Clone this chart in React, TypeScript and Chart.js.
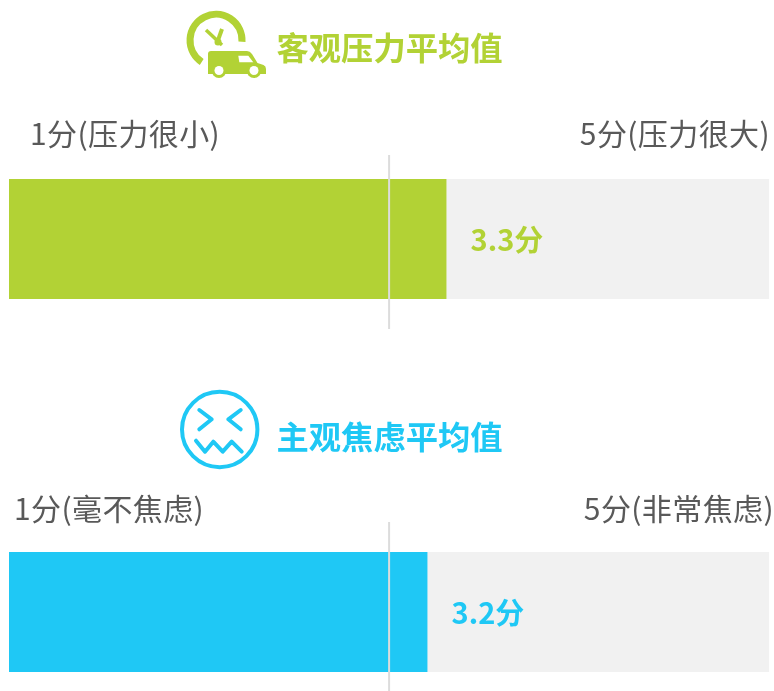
import React, { useEffect, useRef } from "react";
import { Chart, registerables } from "chart.js";

Chart.register(...registerables);

const scaleMin = 1;
const scaleMax = 5;
const midValue = 3;
const titles = ["客观压力平均值", "主观焦虑平均值"];
const lowLabels = ["1分(压力很小)", "1分(毫不焦虑)"];
const highLabels = ["5分(压力很大)", "5分(非常焦虑)"];
const values = [3.3, 3.2];
const valueLabels = ["3.3分", "3.2分"];
const colors = ["#b2d235", "#1fc8f5"];
const trackColor = "#f1f1f1";
const textColor = "#595959";
const lineColor = "#dcdcdc";
const FONT = '"Noto Sans CJK SC", "Noto Sans", sans-serif';

type PanelLayout = {
  top: number; height: number; padTop: number; padBottom: number;
  titleY: number; labelY: number; lowX: number; highX: number;
  lineTop: number; lineBottom: number;
};
const layouts: PanelLayout[] = [
  { top: 0, height: 340, padTop: 179, padBottom: 41, titleY: 48, labelY: 134, lowX: 30, highX: 770, lineTop: 155, lineBottom: 329 },
  { top: 345, height: 346, padTop: 207, padBottom: 19, titleY: 92, labelY: 164, lowX: 14, highX: 774, lineTop: 177, lineBottom: 346 },
];

function Panel({ index }: { index: number }) {
  const ref = useRef<HTMLCanvasElement>(null);
  const l = layouts[index];
  useEffect(() => {
    const textPlugin = {
      id: "panelText",
      afterDatasetsDraw(chart: any) {
        const { ctx, scales } = chart;
        const x = scales.x;
        const midX = x.getPixelForValue(midValue);
        ctx.save();
        ctx.fillStyle = lineColor;
        ctx.fillRect(midX - 1, l.lineTop, 2, l.lineBottom - l.lineTop);
        ctx.textBaseline = "middle";
        ctx.fillStyle = colors[index];
        ctx.font = `bold 32.3px ${FONT}`;
        ctx.textAlign = "left";
        ctx.fillText(titles[index], 276.5, l.titleY);
        ctx.fillStyle = textColor;
        ctx.font = `30px ${FONT}`;
        ctx.letterSpacing = "0.4px";
        ctx.fillText(lowLabels[index], l.lowX, l.labelY);
        ctx.textAlign = "right";
        ctx.fillText(highLabels[index], l.highX, l.labelY);
        ctx.letterSpacing = "0px";
        ctx.textAlign = "left";
        ctx.fillStyle = colors[index];
        ctx.font = `bold 29px ${FONT}`;
        const meta = chart.getDatasetMeta(0).data[0];
        ctx.fillText(valueLabels[index], x.getPixelForValue(values[index]) + 24.5, meta.y + 1);
        ctx.restore();
      },
    };
    const chart = new Chart(ref.current!, {
      type: "bar",
      data: {
        labels: [titles[index]],
        datasets: [
          { data: [values[index]], backgroundColor: colors[index], barPercentage: 1, categoryPercentage: 1 },
          { data: [scaleMax], backgroundColor: trackColor, barPercentage: 1, categoryPercentage: 1 },
        ],
      },
      options: {
        indexAxis: "y",
        animation: false,
        responsive: false,
        layout: { padding: { left: 9, right: 4.8, top: l.padTop, bottom: l.padBottom } },
        plugins: { legend: { display: false }, tooltip: { enabled: false }, title: { display: false } },
        scales: {
          x: { min: scaleMin, max: scaleMax, display: false },
          y: { stacked: true, display: false },
        },
      },
      plugins: [textPlugin],
    } as any);
    return () => chart.destroy();
  }, []);
  return (
    <canvas
      ref={ref}
      width={774}
      height={l.height}
      style={{ position: "absolute", left: 0, top: l.top, width: 774, height: l.height }}
    />
  );
}

function Icons() {
  const green = colors[0];
  const blue = colors[1];
  return (
    <svg width={774} height={691} style={{ position: "absolute", left: 0, top: 0, pointerEvents: "none" }}>
      <path d="M 201.7 62 A 26 26 0 1 1 242 41.7" fill="none" stroke={green} strokeWidth={7} />
      <path d="M 206 30 L 222 45" fill="none" stroke={green} strokeWidth={3.5} />
      <path d="M 222 29 L 217 43" fill="none" stroke={green} strokeWidth={4} />
      <circle cx={218} cy={42} r={3.5} fill={green} />
      <path d="M 211 51 L 247 51 Q 250 51 252 54 L 257.5 63 L 263.5 65 Q 266 66 266 69 L 266 74 L 208 74 L 208 54 Q 208 51 211 51 Z" fill={green} />
      <path d="M 238.3 55.7 L 248.3 55.7 L 253.3 62.3 L 239.3 62.3 Z" fill="#ffffff" />
      <circle cx={219} cy={70.5} r={7.5} fill={green} />
      <circle cx={219} cy={70.5} r={4.5} fill="#ffffff" />
      <circle cx={254} cy={70.5} r={7.5} fill={green} />
      <circle cx={254} cy={70.5} r={4.5} fill="#ffffff" />
      <circle cx={219.7} cy={429.5} r={37.7} fill="none" stroke={blue} strokeWidth={4} />
      <g fill="none" stroke={blue} strokeWidth={4} strokeLinecap="round" strokeLinejoin="round">
        <path d="M 199.3 410 L 211.7 419.3 L 199.3 429.3" />
        <path d="M 240.7 410 L 228.3 419.3 L 240.7 429.3" />
        <path d="M 196 440.7 L 205 451.7 L 213.3 441.7 L 222.7 451.7 L 231.7 441.7 L 241.7 451.7" />
      </g>
    </svg>
  );
}

export default function App() {
  return (
    <div style={{ position: "absolute", left: 0, top: 0, width: 774, height: 691, background: "#ffffff", overflow: "hidden" }}>
      <Panel index={0} />
      <Panel index={1} />
      <Icons />
    </div>
  );
}
